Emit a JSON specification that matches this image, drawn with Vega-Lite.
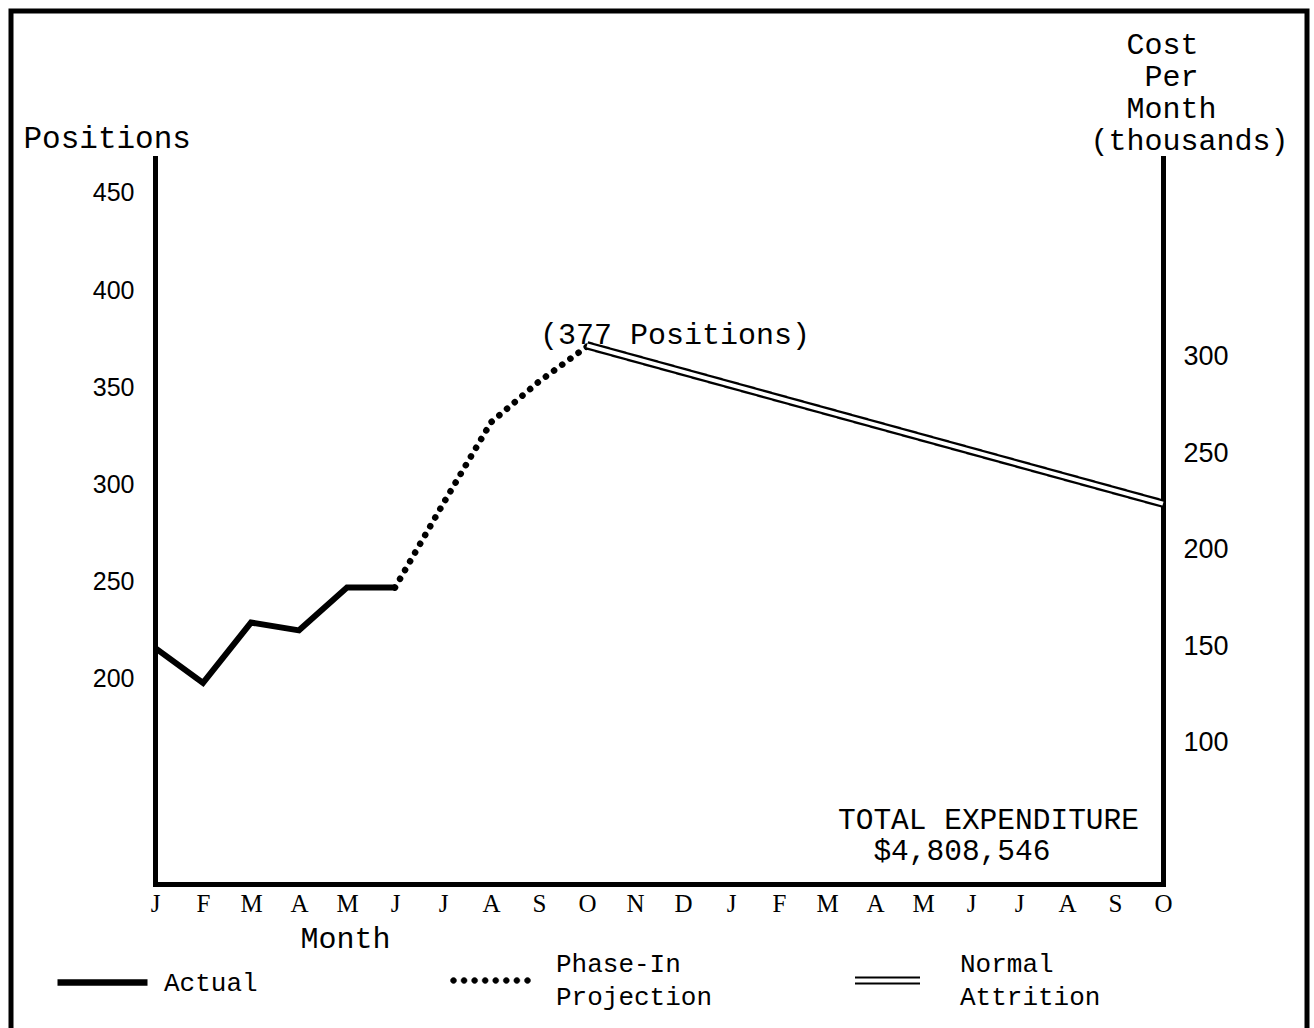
{
  "$schema": "https://vega.github.io/schema/vega-lite/v6.json",
  "width": 1008,
  "height": 726,
  "autosize": {"type": "none"},
  "padding": {"left": 155, "top": 158, "right": 151, "bottom": 144},
  "background": "white",
  "config": {
    "view": {"stroke": null},
    "font": "Liberation Mono",
    "style": {"guide-label": {"lineHeight": 33}},
    "legend": {"padding": 0, "title": null}
  },
  "datasets": {
    "positions": [
      {"month": 0, "positions": 216, "series": "Actual"},
      {"month": 1, "positions": 198, "series": "Actual"},
      {"month": 2, "positions": 229, "series": "Actual"},
      {"month": 3, "positions": 225, "series": "Actual"},
      {"month": 4, "positions": 247, "series": "Actual"},
      {"month": 5, "positions": 247, "series": "Actual"},
      {"month": 5, "positions": 247, "series": "Phase-In Projection"},
      {"month": 6, "positions": 290, "series": "Phase-In Projection"},
      {"month": 7, "positions": 332, "series": "Phase-In Projection"},
      {"month": 8, "positions": 353, "series": "Phase-In Projection"},
      {"month": 9, "positions": 371, "series": "Phase-In Projection"}
    ],
    "cost": [
      {"month": 9, "cost": 306, "series": "Normal Attrition"},
      {"month": 21, "cost": 224, "series": "Normal Attrition"}
    ],
    "notes": [
      {"month": 9, "positions": 371, "label": "(377 Positions)"}
    ]
  },
  "layer": [
    {
      "data": {"name": "positions"},
      "encoding": {
        "x": {
          "field": "month", "type": "quantitative",
          "scale": {"domain": [0, 21], "nice": false, "zero": false},
          "axis": {
            "values": [0,1,2,3,4,5,6,7,8,9,10,11,12,13,14,15,16,17,18,19,20,21],
            "labelExpr": "['J','F','M','A','M','J','J','A','S','O','N','D'][datum.value % 12]",
            "ticks": false, "tickSize": 0, "grid": false,
            "domainColor": "black", "domainWidth": 5, "domainCap": "square",
            "labelFont": "Liberation Serif", "labelFontSize": 25, "labelColor": "black",
            "labelPadding": 7, "labelFlush": false, "labelOverlap": false,
            "title": "Month", "titleFont": "Liberation Mono", "titleFontSize": 30,
            "titleFontWeight": "normal", "titleColor": "black",
            "titleX": 145, "titleY": 63, "titleAlign": "left", "titleBaseline": "alphabetic"
          }
        },
        "y": {
          "field": "positions", "type": "quantitative",
          "scale": {"domain": [94.5, 468], "nice": false, "zero": false},
          "axis": {
            "values": [200, 250, 300, 350, 400, 450],
            "ticks": false, "tickSize": 0, "grid": false,
            "domainColor": "black", "domainWidth": 5, "domainCap": "square",
            "labelFont": "Liberation Sans", "labelFontSize": 25, "labelColor": "black",
            "labelPadding": 21, "labelFlush": false,
            "title": "Positions", "titleFont": "Liberation Mono", "titleFontSize": 31,
            "titleFontWeight": "normal", "titleColor": "black", "titleAngle": 0,
            "titleX": -132, "titleY": -11, "titleAlign": "left", "titleBaseline": "alphabetic"
          }
        }
      },
      "layer": [
        {
          "data": {"name": "notes"},
          "mark": {"type": "rect", "fill": "transparent", "stroke": "black", "strokeWidth": 5},
          "encoding": {
            "x": {"datum": -3.0, "type": "quantitative"},
            "x2": {"datum": 24.0},
            "y": {"datum": 543.6, "type": "quantitative"},
            "y2": {"datum": 0}
          }
        },
        {
          "transform": [{"filter": "datum.series === 'Actual'"}],
          "mark": {"type": "line", "strokeWidth": 6},
          "encoding": {
            "color": {
              "field": "series", "type": "nominal",
              "scale": {"domain": ["Actual"], "range": ["black"]},
              "legend": {
                "title": null, "orient": "none", "legendX": -101, "legendY": 776, "padding": 0,
                "symbolType": "stroke", "symbolSize": 8100,
                "symbolStrokeWidth": 6.5,
                "labelFont": "Liberation Mono", "labelFontSize": 26, "labelColor": "black",
                "labelOffset": 13, "labelBaseline": "middle", "labelLimit": 400,
                "labelExpr": "split(datum.label, ' ')"
              }
            }
          }
        },
        {
          "transform": [{"filter": "datum.series === 'Phase-In Projection'"}],
          "mark": {"type": "line", "strokeWidth": 6.5, "strokeCap": "round", "strokeDash": [0.1, 10]},
          "encoding": {
            "stroke": {
              "field": "series", "type": "nominal",
              "scale": {"domain": ["Phase-In Projection"], "range": ["black"]},
              "legend": {
                "title": null, "orient": "none", "legendX": 295, "legendY": 782, "padding": 0,
                "symbolType": "M-1,0a0.075,0.075 0 1,0 0.15,0a0.075,0.075 0 1,0 -0.15,0M-0.736,0a0.075,0.075 0 1,0 0.15,0a0.075,0.075 0 1,0 -0.15,0M-0.472,0a0.075,0.075 0 1,0 0.15,0a0.075,0.075 0 1,0 -0.15,0M-0.208,0a0.075,0.075 0 1,0 0.15,0a0.075,0.075 0 1,0 -0.15,0M0.056,0a0.075,0.075 0 1,0 0.15,0a0.075,0.075 0 1,0 -0.15,0M0.32,0a0.075,0.075 0 1,0 0.15,0a0.075,0.075 0 1,0 -0.15,0M0.584,0a0.075,0.075 0 1,0 0.15,0a0.075,0.075 0 1,0 -0.15,0M0.85,0a0.075,0.075 0 1,0 0.15,0a0.075,0.075 0 1,0 -0.15,0",
                "symbolSize": 6400,
                "symbolFillColor": "black", "symbolStrokeWidth": 0.5,
                "labelFont": "Liberation Mono", "labelFontSize": 26, "labelColor": "black",
                "labelOffset": 25, "labelBaseline": "line-bottom", "labelLimit": 400,
                "labelExpr": "split(datum.label, ' ')"
              }
            }
          }
        },
        {
          "data": {"name": "notes"},
          "mark": {"type": "text", "font": "Liberation Mono", "fontSize": 30, "align": "left", "baseline": "alphabetic", "dx": -47, "dy": -3, "color": "black"},
          "encoding": {"text": {"field": "label", "type": "nominal"}}
        },
        {
          "data": {"name": "notes"},
          "mark": {"type": "text", "font": "Liberation Mono", "fontSize": 29.5, "align": "left", "baseline": "alphabetic", "dx": -325, "dy": -55, "lineHeight": 31, "color": "black",
                   "text": ["TOTAL EXPENDITURE", "\u200b\u00a0\u00a0$4,808,546"]},
          "encoding": {
            "x": {"datum": 21, "type": "quantitative"},
            "y": {"datum": 94.5, "type": "quantitative"}
          }
        }
      ]
    },
    {
      "data": {"name": "cost"},
      "encoding": {
        "x": {"field": "month", "type": "quantitative"},
        "y": {
          "field": "cost", "type": "quantitative",
          "scale": {"domain": [26.9, 403.1], "nice": false, "zero": false},
          "axis": {
            "orient": "right",
            "values": [100, 150, 200, 250, 300],
            "ticks": false, "tickSize": 0, "grid": false,
            "domainColor": "black", "domainWidth": 5, "domainCap": "square",
            "labelFont": "Liberation Sans", "labelFontSize": 27, "labelColor": "black",
            "labelPadding": 20, "labelFlush": false,
            "title": ["\u200b\u00a0\u00a0Cost", "\u200b\u00a0\u00a0\u00a0Per", "\u200b\u00a0\u00a0Month", "(thousands)"],
            "titleFont": "Liberation Mono", "titleFontSize": 30,
            "titleFontWeight": "normal", "titleColor": "black", "titleAngle": 0,
            "titleX": -73, "titleY": -105, "titleAlign": "left", "titleBaseline": "alphabetic",
            "titleLineHeight": 32
          }
        }
      },
      "layer": [
        {
          "mark": {"type": "line", "stroke": "black", "strokeWidth": 8.5},
          "encoding": {
            "strokeDash": {
              "field": "series", "type": "nominal",
              "scale": {"domain": ["Normal Attrition"], "range": [[1, 0]]},
              "legend": {
                "title": null, "orient": "none", "legendX": 699, "legendY": 789, "padding": 0,
                "symbolType": "M-1,-0.092H1M-1,0.092H1", "symbolSize": 4225,
                "symbolStrokeColor": "black", "symbolStrokeWidth": 2,
                "labelFont": "Liberation Mono", "labelFontSize": 26, "labelColor": "black",
                "labelOffset": 39, "labelBaseline": "line-bottom", "labelLimit": 400,
                "labelExpr": "split(datum.label, ' ')"
              }
            }
          }
        },
        {
          "mark": {"type": "line", "stroke": "white", "strokeWidth": 4}
        }
      ]
    }
  ],
  "resolve": {"scale": {"y": "independent"}}
}
